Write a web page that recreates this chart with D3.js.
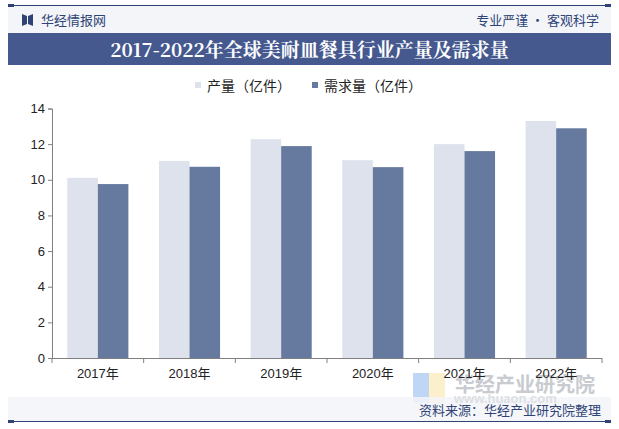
<!DOCTYPE html>
<html>
<head>
<meta charset="utf-8">
<script src="https://cdn.jsdelivr.net/npm/d3@7/dist/d3.min.js"></script>
<style>
  body { margin: 0; background: white; }
  text { font-family: "Liberation Sans", Arial, sans-serif; }
</style>
</head>
<body>
<div class="canvas"></div>
<script>
var width = 619;
var height = 429;

var years = ["2017年", "2018年", "2019年", "2020年", "2021年", "2022年"];
var output = [10.11, 11.06, 12.28, 11.10, 12.00, 13.30];
var demand = [9.76, 10.73, 11.89, 10.71, 11.61, 12.89];
var seriesNames = ["产量（亿件）", "需求量（亿件）"];
var yTicks = [0, 2, 4, 6, 8, 10, 12, 14];
var colors = ["#dde2ec", "#667aa0"];

var svg = d3.select(".canvas").append("svg")
    .attr("width", width)
    .attr("height", height)
    .style("background", "white");

// header
svg.append("rect").attr("x", 8).attr("y", 5).attr("width", 603).attr("height", 28).attr("fill", "#f3f5f9");
svg.append("line").attr("x1", 8).attr("x2", 611).attr("y1", 5.5).attr("y2", 5.5)
    .attr("stroke", "#2f4475").attr("stroke-width", 1);
svg.append("rect").attr("x", 8).attr("y", 4).attr("width", 6).attr("height", 3).attr("fill", "#2f4475");
svg.append("rect").attr("x", 605).attr("y", 4).attr("width", 6).attr("height", 3).attr("fill", "#2f4475");

// logo icon
svg.append("path").attr("d", "M22,14 L27,16 L27,24 L22,26 Z").attr("fill", "#2f4475");
svg.append("path").attr("d", "M28,16 L33,14 L33,26 L28,24 Z").attr("fill", "#2f4475");
svg.append("text").attr("x", 41).attr("y", 25).text("华经情报网")
    .style("font-family", "Noto Sans CJK SC").style("font-size", "13px").attr("fill", "#2f4475");
svg.append("text").attr("x", 599).attr("y", 25).attr("text-anchor", "end").text("专业严谨 • 客观科学")
    .style("font-family", "Noto Sans CJK SC").style("font-size", "13px").attr("fill", "#2f4475");

// title bar
svg.append("rect").attr("x", 8).attr("y", 33).attr("width", 603).attr("height", 32).attr("fill", "#45598f");
svg.append("text").attr("x", 309.5).attr("y", 57).attr("text-anchor", "middle")
    .text("2017-2022年全球美耐皿餐具行业产量及需求量")
    .style("font-family", "'Noto Serif CJK SC', 'DejaVu Serif', serif")
    .style("font-weight", "bold").style("font-size", "19px").attr("fill", "white");

// watermark bottom right
var wm = svg.append("g").attr("opacity", 0.9);
wm.append("rect").attr("x", 413).attr("y", 373).attr("width", 16).attr("height", 30).attr("fill", "#b9d3f3");
wm.append("rect").attr("x", 429).attr("y", 373).attr("width", 16).attr("height", 30).attr("fill", "#fbefc6");
wm.append("text").attr("x", 455).attr("y", 392).text("华经产业研究院")
    .style("font-family", "Noto Sans CJK SC").style("font-weight", "bold")
    .style("font-size", "20px").attr("fill", "#c3c6cc");

// footer
svg.append("rect").attr("x", 8).attr("y", 397).attr("width", 603).attr("height", 24).attr("fill", "#f3f5f9").attr("opacity", 0.85);
svg.append("text").attr("x", 454).attr("y", 403).text("www.huaon.com")
    .style("font-size", "13px").style("font-weight", "bold").attr("fill", "#dcdfe3");
svg.append("line").attr("x1", 8).attr("x2", 611).attr("y1", 421.5).attr("y2", 421.5)
    .attr("stroke", "#2f4475").attr("stroke-width", 1);
svg.append("rect").attr("x", 8).attr("y", 420).attr("width", 6).attr("height", 3).attr("fill", "#2f4475");
svg.append("rect").attr("x", 605).attr("y", 420).attr("width", 6).attr("height", 3).attr("fill", "#2f4475");
svg.append("text").attr("x", 601).attr("y", 415).attr("text-anchor", "end").text("资料来源：华经产业研究院整理")
    .style("font-family", "Noto Sans CJK SC").style("font-size", "13px").attr("fill", "#2f4475");

// chart
var x = d3.scaleBand().domain(years).range([52, 602]);
var x1 = d3.scaleBand().domain([0, 1]).range([0, x.bandwidth()]).paddingOuter(0.5).paddingInner(0);
var y = d3.scaleLinear().domain([0, 14]).range([358, 108.5]);

var groups = svg.append("g").selectAll("g")
    .data(years)
    .enter().append("g")
    .attr("transform", d => `translate(${x(d)},0)`);

groups.selectAll("rect")
    .data((d, i) => [output[i], demand[i]])
    .enter().append("rect")
    .attr("x", (d, j) => x1(j))
    .attr("y", d => y(d))
    .attr("width", x1.bandwidth())
    .attr("height", d => y(0) - y(d))
    .attr("fill", (d, j) => colors[j]);

var yAxis = svg.append("g").attr("transform", "translate(52,0)")
    .call(d3.axisLeft(y).tickValues(yTicks).tickSize(4).tickFormat(d3.format("d")));
var xAxis = svg.append("g").attr("transform", "translate(0,358)")
    .call(d3.axisBottom(x).tickSize(0).tickPadding(11));

// tick marks between categories
svg.append("g").selectAll("line")
    .data(d3.range(years.length + 1))
    .enter().append("line")
    .attr("x1", i => 52 + i * x.step()).attr("x2", i => 52 + i * x.step())
    .attr("y1", 358).attr("y2", 363)
    .attr("stroke", "#808080");

[yAxis, xAxis].forEach(a => {
    a.select(".domain").attr("stroke", "#808080");
    a.selectAll(".tick line").attr("stroke", "#808080");
    a.selectAll("text").style("font-size", "13px").attr("fill", "#222")
        .style("font-family", "'Liberation Sans', 'Noto Sans CJK SC', sans-serif");
});
xAxis.select(".domain").attr("d", "M52,0.5H602");

// legend
var legend = svg.append("g");
var legX = [195, 312];
seriesNames.forEach((n, i) => {
    legend.append("rect").attr("x", legX[i]).attr("y", 82).attr("width", 6).attr("height", 6).attr("fill", colors[i]);
    legend.append("text").attr("x", legX[i] + 12).attr("y", 91).text(n)
        .style("font-family", "Noto Sans CJK SC").style("font-size", "14px").attr("fill", "#222");
});
</script>
</body>
</html>
